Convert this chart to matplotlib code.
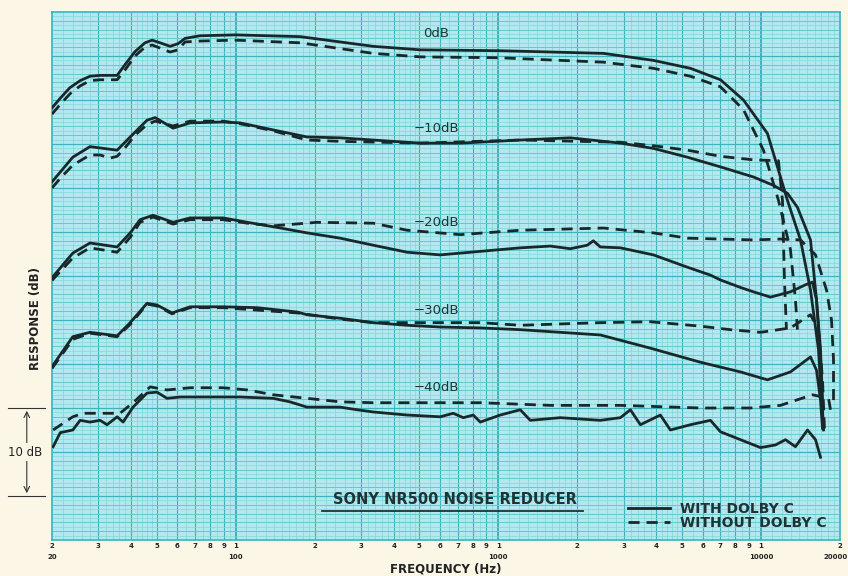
import matplotlib
matplotlib.use("Agg")
import matplotlib.pyplot as plt
import matplotlib.transforms as mtransforms
import numpy as np

# ---- data (frequency in Hz, response in dB) ----
f_0db = [20, 21.5, 23.4, 25.6, 27.9, 30.5, 35.4, 37.9, 41.4, 45.2, 48.1, 51.6, 56.3, 60.4,
         64.2, 73.2, 100, 176, 334, 505, 1018, 2513, 3896, 5389, 7013, 8580, 10588, 12616,
         14146, 15442, 16566, 17157, 17308]
db_0db = [-5.9, -4.8, -3.6, -2.8, -2.3, -2.2, -2.2, -1.0, 0.5, 1.5, 1.8, 1.5, 1.1, 1.4,
          2.0, 2.3, 2.4, 2.2, 1.1, 0.7, 0.6, 0.3, -0.5, -1.4, -2.7, -5.0, -8.8, -16.4,
          -20.9, -26.6, -33.4, -41.4, -42.5]
f_0db_nc = [20, 21.5, 23.4, 25.6, 27.9, 30.5, 35.4, 37.9, 41.4, 45.2, 48.1, 51.6, 56.3, 60.4,
            64.2, 73.2, 100, 176, 334, 505, 1018, 1579, 2513, 3896, 5389, 7013, 8580, 10223,
            11661, 12953, 13533, 13772]
db_0db_nc = [-6.6, -5.5, -4.3, -3.4, -2.8, -2.7, -2.7, -1.6, 0.0, 1.0, 1.25, 0.9, 0.45, 0.7,
             1.6, 1.7, 1.8, 1.5, 0.3, -0.1, -0.2, -0.45, -0.7, -1.4, -2.3, -3.5, -6.1, -10.7,
             -16.4, -22.0, -27.7, -31.1]

f_10db = [20, 24.0, 27.9, 35.4, 39.7, 46.0, 49.4, 57.8, 67.1, 89.6, 104, 139, 187, 250, 334,
          505, 717, 1213, 1881, 2916, 3896, 5249, 7013, 9367, 11161, 12616, 13772, 15442,
          16278, 16859, 17157, 17308]
db_10db = [-14.3, -11.5, -10.3, -10.7, -9.2, -7.3, -7.0, -8.2, -7.6, -7.5, -7.6, -8.4, -9.2,
           -9.3, -9.55, -9.9, -9.9, -9.55, -9.3, -9.9, -10.5, -11.5, -12.6, -13.75, -14.7,
           -15.6, -17.2, -20.9, -27.7, -34.5, -40.2, -42.3]
f_10db_nc = [20, 21.5, 24.0, 27.9, 30.5, 33.3, 35.4, 37.9, 41.4, 46.0, 49.4, 57.8, 67.1, 89.6,
             104, 139, 187, 250, 505, 1213, 2916, 3896, 5249, 7013, 9367, 11661, 12077, 12290,
             12507]
db_10db_nc = [-15.0, -13.9, -12.4, -11.25, -11.25, -11.6, -11.4, -10.45, -9.0, -7.8, -7.4,
              -7.95, -7.4, -7.4, -7.7, -8.5, -9.55, -9.7, -9.9, -9.55, -9.8, -10.2, -10.7,
              -11.4, -11.8, -11.9, -16.4, -25.5, -31.1]

f_20db = [20, 24.0, 27.9, 35.4, 39.7, 43.3, 48.5, 57.8, 67.1, 89.6, 111, 139, 187, 250, 334,
          450, 601, 717, 1213, 1579, 1881, 2183, 2301, 2447, 2916, 3896, 5249, 6424, 7013,
          8357, 9367, 10872, 12953, 14780, 15716, 16278, 16859, 17157]
db_20db = [-25.2, -22.4, -21.25, -21.7, -20.1, -18.6, -18.1, -18.9, -18.4, -18.4, -18.9,
           -19.4, -20.1, -20.7, -21.5, -22.3, -22.6, -22.4, -21.8, -21.6, -21.9, -21.5, -21.0,
           -21.7, -21.8, -22.6, -24.0, -24.9, -25.45, -26.3, -26.8, -27.4, -26.8, -26.0,
           -25.7, -27.7, -33.4, -39.1]
f_20db_nc = [20, 24.0, 27.9, 35.4, 39.7, 43.3, 48.5, 57.8, 67.1, 89.6, 111, 139, 204, 334, 450,
             717, 1213, 2513, 3896, 5249, 9367, 11867, 14146, 16136, 17770, 18566, 18894,
             18894]
db_20db_nc = [-25.5, -22.95, -21.8, -22.3, -20.6, -18.9, -18.3, -19.1, -18.6, -18.6, -19.0,
              -19.3, -18.9, -19.0, -19.8, -20.3, -19.8, -19.55, -20.1, -20.7, -20.9, -20.8,
              -20.9, -22.6, -26.6, -30.0, -34.5, -39.1]

f_30db = [20, 24.0, 27.9, 35.4, 39.7, 46.0, 50.2, 57.3, 67.1, 89.6, 121, 172, 187, 250, 334,
          450, 601, 854, 1213, 2447, 3794, 5885, 8357, 10588, 12953, 15442, 16278, 16859,
          17157]
db_30db = [-35.3, -31.9, -31.4, -31.8, -30.3, -28.1, -28.3, -29.2, -28.5, -28.5, -28.6, -29.1,
           -29.4, -29.8, -30.3, -30.6, -30.8, -30.9, -31.1, -31.7, -33.2, -34.8, -35.9, -36.8,
           -35.9, -34.2, -35.7, -39.1, -42.3]
f_30db_nc = [20, 24.0, 27.9, 35.4, 39.7, 46.0, 50.2, 57.3, 67.1, 89.6, 172, 250, 334, 450, 854,
             1213, 2447, 3794, 5885, 7655, 9958, 12953, 15442, 16566, 17157, 17461]
db_30db_nc = [-35.5, -32.2, -31.5, -31.9, -30.5, -28.2, -28.4, -29.3, -28.6, -28.6, -29.2,
              -29.9, -30.3, -30.3, -30.3, -30.6, -30.3, -30.2, -30.7, -31.1, -31.4, -30.9,
              -29.4, -31.1, -36.8, -42.5]

f_40db = [20.2, 21.5, 24.0, 25.6, 27.9, 30.5, 32.4, 35.4, 37.3, 40.7, 46.0, 50.2, 54.8, 61.5,
          77.9, 104, 139, 161, 187, 250, 290, 334, 450, 601, 674, 736, 803, 854, 1018, 1213,
          1324, 1723, 2447, 2916, 3184, 3476, 4141, 4522, 5389, 6424, 7013, 8357, 9958, 11359,
          12398, 13533, 15041, 16136, 16859]
db_40db = [-44.4, -42.8, -42.5, -41.4, -41.6, -41.4, -41.9, -41.0, -41.6, -39.9, -38.3, -38.2,
           -38.9, -38.75, -38.75, -38.75, -38.9, -39.3, -39.9, -39.9, -40.2, -40.45, -40.8,
           -41.0, -40.6, -41.1, -40.8, -41.6, -40.8, -40.2, -41.4, -41.1, -41.4, -41.1, -40.2,
           -41.9, -40.8, -42.5, -41.9, -41.4, -42.7, -43.6, -44.5, -44.2, -43.6, -44.4, -42.5,
           -43.6, -45.6]
f_40db_nc = [20.2, 24.0, 26.2, 32.4, 36.3, 40.7, 47.3, 54.8, 67.1, 89.6, 111, 139, 187, 250,
             334, 854, 1579, 2916, 5885, 9123, 11867, 15716, 18085, 18404]
db_40db_nc = [-42.5, -41.0, -40.6, -40.6, -40.6, -39.4, -37.6, -37.95, -37.7, -37.7, -37.95,
              -38.5, -38.9, -39.3, -39.4, -39.4, -39.7, -39.7, -40.0, -40.0, -39.7, -38.5,
              -38.9, -40.2]

level_labels = ["0dB", "\u221210dB", "\u221220dB", "\u221230dB", "\u221240dB"]
label_db = [2.6, -8.2, -18.9, -28.9, -37.7]
decade_labels = [20, 100, 1000, 10000, 20000]

paper = "#fbf6e6"
cyan = "#b3e9ee"
ink = "#17282a"
text_col = "#1f3335"

fig = plt.figure(figsize=(8.48, 5.76), dpi=100, facecolor=paper)
ax = fig.add_axes([52 / 848, 36 / 576, 788 / 848, 528 / 576])
ax.set_facecolor(cyan)
ax.set_xscale("log")
ax.set_xlim(20, 20000)
ax.set_ylim(-55, 5)

# graph paper grid
fine = []
for d in [10, 100, 1000, 10000]:
    for k in np.concatenate([np.arange(1, 2, 0.1), np.arange(2, 5, 0.2), np.arange(5, 10, 0.5)]):
        v = k * d
        if 20 <= v <= 20000:
            fine.append(v)
ax.vlines(fine, -55, 5, color="#80d5db", lw=0.5, zorder=0)
for d in [10, 100, 1000, 10000]:
    for k in range(2, 11):
        v = k * d
        if 20 < v < 20000:
            ax.axvline(v, color="#3cb3bf", lw=1.4 if k == 10 else 0.8, zorder=0)
ax.hlines(np.arange(-55, 5, 0.5), 20, 20000, color="#80d5db", lw=0.45, zorder=0)
ax.hlines(np.arange(-55, 5, 1), 20, 20000, color="#5ec6cf", lw=0.6, zorder=0)
ax.hlines(np.arange(-50, 5, 5), 20, 20000, color="#3cb3bf", lw=0.9, zorder=0)

for s in ax.spines.values():
    s.set_color("#3cb3bf")
    s.set_linewidth(1.2)

# curves
kw = dict(color=ink, lw=2.0, zorder=3, solid_joinstyle="round")
dkw = dict(color=ink, lw=2.0, zorder=3, linestyle=(0, (4, 2.5)))
l1, = ax.plot(f_0db, db_0db, label="WITH DOLBY C", **kw)
l2, = ax.plot(f_0db_nc, db_0db_nc, label="WITHOUT DOLBY C", **dkw)
ax.plot(f_10db, db_10db, **kw)
ax.plot(f_10db_nc, db_10db_nc, **dkw)
ax.plot(f_20db, db_20db, **kw)
ax.plot(f_20db_nc, db_20db_nc, **dkw)
ax.plot(f_30db, db_30db, **kw)
ax.plot(f_30db_nc, db_30db_nc, **dkw)
ax.plot(f_40db, db_40db, **kw)
ax.plot(f_40db_nc, db_40db_nc, **dkw)

for txt, y in zip(level_labels, label_db):
    ax.text(580, y, txt, ha="center", va="center", fontsize=9.5, color=text_col, zorder=4)

# title with underline
ax.text(686, -51.3, "SONY NR500 NOISE REDUCER", ha="center", va="bottom", fontsize=10.5,
        fontweight="bold", color=text_col, zorder=4)
ax.plot([214, 2108], [-51.7, -51.7], color=text_col, lw=1.3, zorder=4)

leg = ax.legend(handles=[l1, l2], loc="lower right", bbox_to_anchor=(0.995, 0.0),
                frameon=False, fontsize=10, handlelength=3.0, handletextpad=0.7,
                labelspacing=0.0, borderpad=0.2)
for t in leg.get_texts():
    t.set_color(text_col)
    t.set_fontweight("bold")

# x tick labels: digit row as ticks, decade values as a second row
ticks = []
labels = []
for d in [10, 100, 1000, 10000]:
    for k in range(1, 10):
        v = k * d
        if 20 <= v <= 20000:
            ticks.append(v)
            labels.append(str(k))
ax.set_xticks(ticks)
ax.set_xticklabels(labels, fontsize=5, color="#222222", fontweight="bold")
ax.set_xticks([], minor=True)
ax.tick_params(axis="x", length=0, pad=2)
ax.set_yticks([])

xtrans = mtransforms.blended_transform_factory(ax.transData, ax.transAxes)
for v in decade_labels:
    xpos = v if v < 20000 else 19300
    ax.text(xpos, -0.027, str(v), transform=xtrans, ha="center", va="top", fontsize=5,
            fontweight="bold", color="#222222")

fig.text(446 / 848, 1 - 569 / 576, "FREQUENCY (Hz)", ha="center", va="center",
         fontsize=8.5, fontweight="bold", color="#222222")
fig.text(35 / 848, 1 - 318 / 576, "RESPONSE (dB)", rotation=90, ha="center", va="center",
         fontsize=8.5, fontweight="bold", color="#222222")

# 10 dB scale bracket
trans = mtransforms.blended_transform_factory(ax.transAxes, ax.transData)
for y in (-40, -50):
    ax.plot([-0.056, -0.009], [y, y], color="#333333", lw=0.8, transform=trans, clip_on=False)
ax.annotate("", xy=(-0.032, -40), xytext=(-0.032, -50), xycoords=trans, textcoords=trans,
            arrowprops=dict(arrowstyle="<->", color="#333333", lw=0.8))
ax.text(-0.034, -45, "10 dB", transform=trans, ha="center", va="center", fontsize=8.5,
        color="#222222", bbox=dict(facecolor=paper, edgecolor="none", pad=1.5))

fig.savefig("out.png", dpi=100, facecolor=paper)
